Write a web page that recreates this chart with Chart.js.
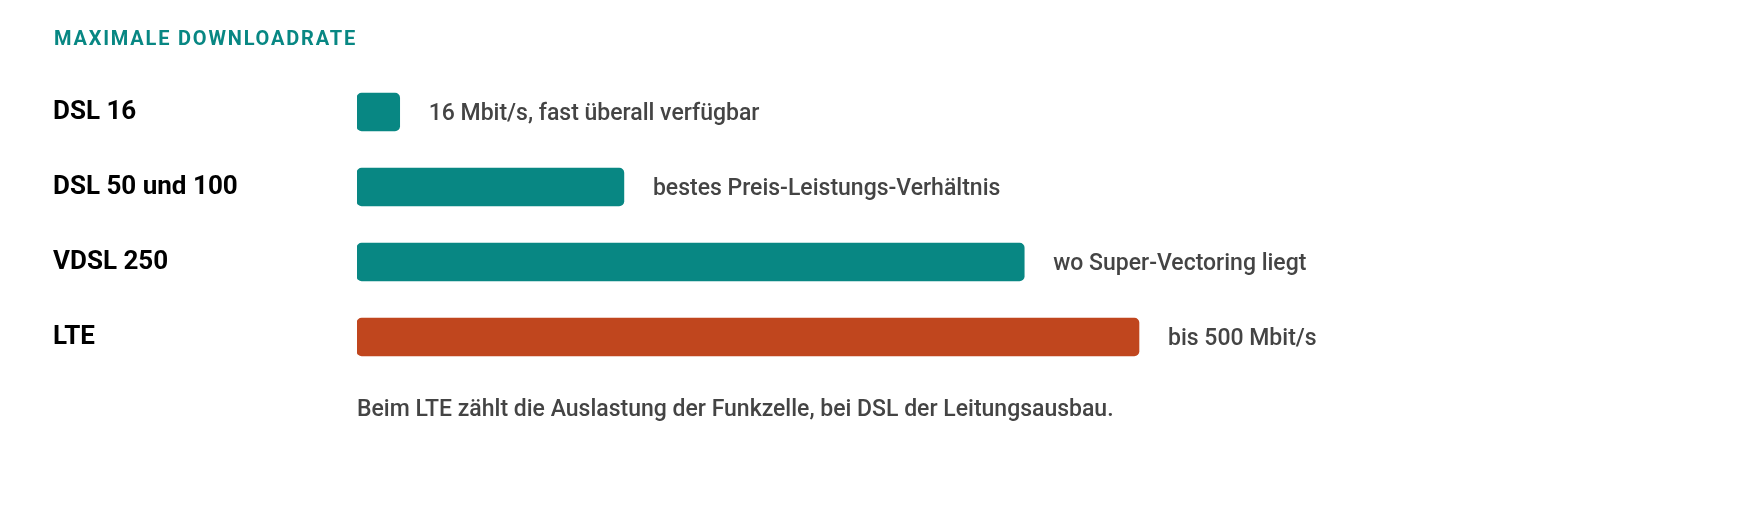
<!DOCTYPE html>
<html>
<head>
<meta charset="utf-8">
<script src="https://cdn.jsdelivr.net/npm/chart.js@4"></script>
<style>
  html, body { margin: 0; padding: 0; background: #fff; }
  #wrap { width: 1760px; height: 520px; position: relative; }
</style>
</head>
<body>
<div id="wrap"><canvas id="speedChart"></canvas></div>
<script>
const categories = ['DSL 16', 'DSL 50 und 100', 'VDSL 250', 'LTE'];
const speeds = [16, 100, 250, 293];
const notes = ['16 Mbit/s, fast überall verfügbar', 'bestes Preis-Leistungs-Verhältnis', 'wo Super-Vectoring liegt', 'bis 500 Mbit/s'];
const barColors = ['#088783', '#088783', '#088783', '#c0461e'];
const titleText = 'MAXIMALE DOWNLOADRATE';
const footText = 'Beim LTE zählt die Auslastung der Funkzelle, bei DSL der Leitungsausbau.';

const ctx = document.getElementById('speedChart').getContext('2d');

new Chart(ctx, {
    type: 'bar',
    data: {
        labels: categories,
        datasets: [{
            data: speeds,
            backgroundColor: barColors,
            borderRadius: 5,
            borderSkipped: false,
            barThickness: 38
        }]
    },
    options: {
        indexAxis: 'y',
        responsive: true,
        maintainAspectRatio: false,
        animation: false,
        layout: { padding: { left: 357, right: 202, top: 74.5, bottom: 145.5 } },
        plugins: { legend: { display: false }, tooltip: { enabled: false } },
        scales: {
            x: { display: false, min: 0, max: 450 },
            y: { display: false }
        }
    },
    plugins: [{
        id: 'texts',
        afterDraw(chart) {
            const c = chart.ctx;
            const xs = chart.scales.x, ys = chart.scales.y;
            c.save();
            c.textBaseline = 'middle';
            c.fillStyle = '#088783';
            c.font = 'bold 20px Roboto';
            c.letterSpacing = '1.8px';
            c.fillText(titleText, 54, 40);
            c.letterSpacing = '0px';
            categories.forEach((cat, i) => {
                const y = ys.getPixelForValue(i);
                c.fillStyle = '#000';
                c.font = 'bold 26px Roboto';
                c.fillText(cat, 53, y);
                c.fillStyle = '#444';
                c.font = '500 23px Roboto';
                c.fillText(notes[i], xs.getPixelForValue(speeds[i]) + 29, y + 2);
            });
            c.fillStyle = '#444';
            c.font = '500 23px Roboto';
            c.fillText(footText, 357, 410);
            c.restore();
        }
    }]
});
</script>
</body>
</html>
